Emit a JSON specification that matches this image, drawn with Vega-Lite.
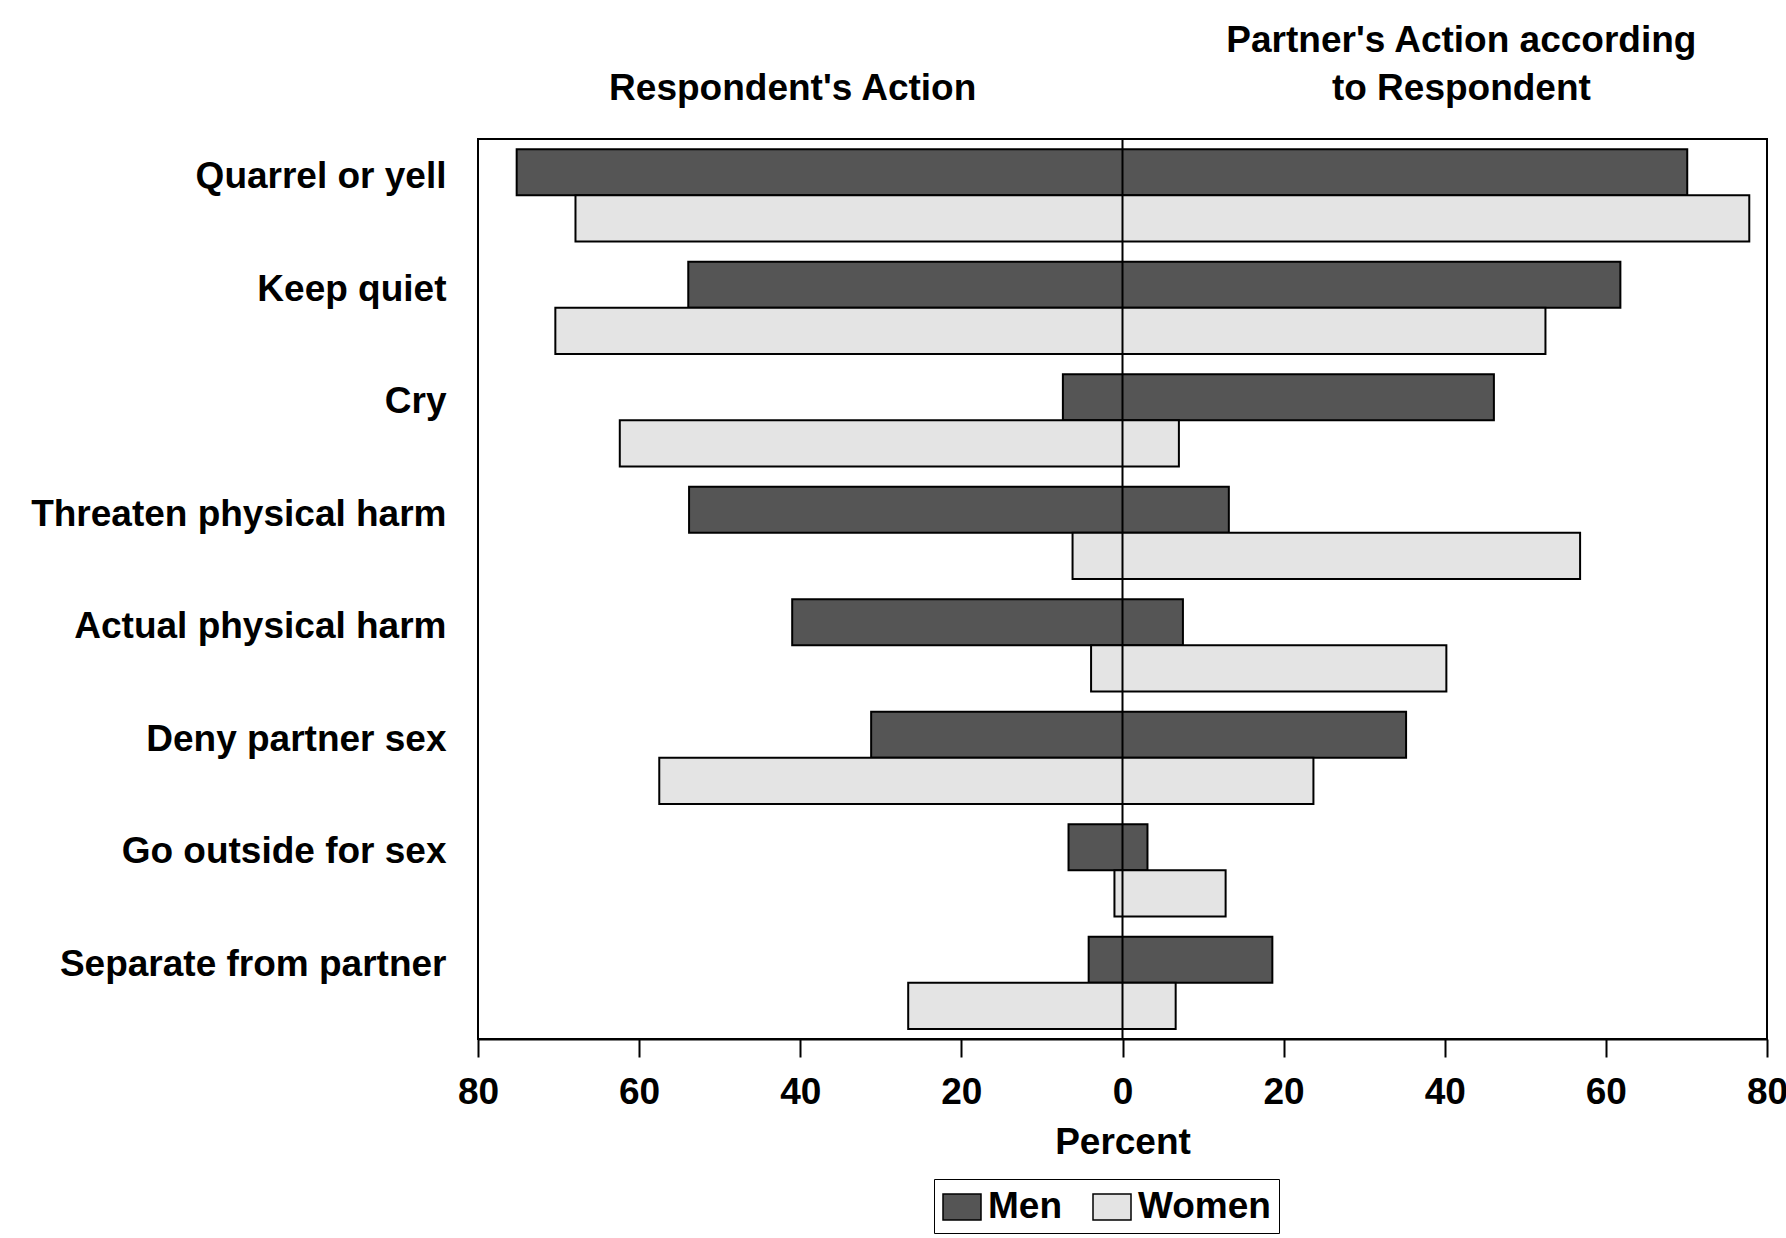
{
  "$schema": "https://vega.github.io/schema/vega-lite/v6.json",
  "width": 1289,
  "height": 900,
  "padding": {"left": 30, "top": 21, "right": 0, "bottom": 0},
  "background": "white",
  "config": {
    "font": "Liberation Sans",
    "view": {"stroke": "black", "strokeWidth": 2},
    "axis": {"labelFont": "Liberation Sans", "labelFontWeight": "bold", "labelColor": "black", "titleFont": "Liberation Sans", "titleFontWeight": "bold", "titleColor": "black", "grid": false},
    "legend": {"labelFont": "Liberation Sans", "labelFontWeight": "bold", "labelColor": "black"}
  },
  "resolve": {"axis": {"x": "independent"}},
  "layer": [
    {
      "data": {
        "values": [
          {"action": "Quarrel or yell", "sex": "Men", "respondent": -75.2, "partner": 70.1},
          {"action": "Quarrel or yell", "sex": "Women", "respondent": -67.9, "partner": 77.8},
          {"action": "Keep quiet", "sex": "Men", "respondent": -53.9, "partner": 61.8},
          {"action": "Keep quiet", "sex": "Women", "respondent": -70.4, "partner": 52.5},
          {"action": "Cry", "sex": "Men", "respondent": -7.4, "partner": 46.1},
          {"action": "Cry", "sex": "Women", "respondent": -62.4, "partner": 7.0},
          {"action": "Threaten physical harm", "sex": "Men", "respondent": -53.8, "partner": 13.2},
          {"action": "Threaten physical harm", "sex": "Women", "respondent": -6.2, "partner": 56.8},
          {"action": "Actual physical harm", "sex": "Men", "respondent": -41.0, "partner": 7.5},
          {"action": "Actual physical harm", "sex": "Women", "respondent": -3.9, "partner": 40.2},
          {"action": "Deny partner sex", "sex": "Men", "respondent": -31.2, "partner": 35.2},
          {"action": "Deny partner sex", "sex": "Women", "respondent": -57.5, "partner": 23.7},
          {"action": "Go outside for sex", "sex": "Men", "respondent": -6.7, "partner": 3.1},
          {"action": "Go outside for sex", "sex": "Women", "respondent": -1.0, "partner": 12.8},
          {"action": "Separate from partner", "sex": "Men", "respondent": -4.2, "partner": 18.6},
          {"action": "Separate from partner", "sex": "Women", "respondent": -26.6, "partner": 6.6}
        ]
      },
      "mark": {"type": "bar", "stroke": "black", "strokeWidth": 2},
      "encoding": {
        "y": {
          "field": "action", "type": "nominal",
          "sort": ["Quarrel or yell", "Keep quiet", "Cry", "Threaten physical harm", "Actual physical harm", "Deny partner sex", "Go outside for sex", "Separate from partner"],
          "scale": {"paddingInner": 0.18, "paddingOuter": 0.09},
          "axis": {"title": null, "ticks": false, "domain": false, "labelFontSize": 37, "labelOffset": -18, "labelPadding": 32, "labelLimit": 800}
        },
        "yOffset": {"field": "sex", "type": "nominal", "sort": ["Men", "Women"], "scale": {"paddingInner": 0, "paddingOuter": 0}},
        "x": {
          "field": "respondent", "type": "quantitative",
          "scale": {"domain": [-80, 80], "nice": false},
          "axis": {"orient": "bottom", "values": [-80, -60, -40, -20, 0, 20, 40, 60, 80], "labelExpr": "abs(datum.value)", "tickSize": 18, "tickColor": "black", "tickWidth": 2, "domainColor": "black", "domainWidth": 2, "labelPadding": 17, "labelFlush": false, "labelFontSize": 37, "title": "Percent", "titleFontSize": 37, "titlePadding": 14}
        },
        "x2": {"field": "partner"},
        "color": {
          "field": "sex", "type": "nominal",
          "scale": {"domain": ["Men", "Women"], "range": ["#555555", "#e4e4e4"]},
          "legend": {"title": null, "orient": "none", "legendX": 456, "legendY": 1040, "direction": "horizontal", "symbolType": "M-1,-0.68H1V0.68H-1Z", "symbolSize": 1444, "symbolStrokeColor": "black", "symbolStrokeWidth": 1.5, "symbolOpacity": 1, "labelFontSize": 37, "strokeColor": "black", "padding": 8, "columnPadding": 28, "labelOffset": 6}
        }
      }
    },
    {
      "data": {"values": [{"zero": 0}]},
      "mark": {"type": "rule", "color": "black", "strokeWidth": 2},
      "encoding": {
        "x": {
          "field": "zero", "type": "quantitative",
          "scale": {"domain": [-80, 80], "nice": false},
          "axis": {"orient": "top", "values": [-41, 42], "labelExpr": "datum.value < 0 ? [\"\", \"Respondent's Action\"] : [\"Partner's Action according\", \"to Respondent\"]", "ticks": false, "tickSize": 0, "domain": false, "title": null, "labelPadding": 80, "labelFlush": false, "labelOverlap": false, "labelBound": false, "labelLimit": 900, "labelLineHeight": 48, "labelFontSize": 37}
        }
      }
    }
  ]
}
